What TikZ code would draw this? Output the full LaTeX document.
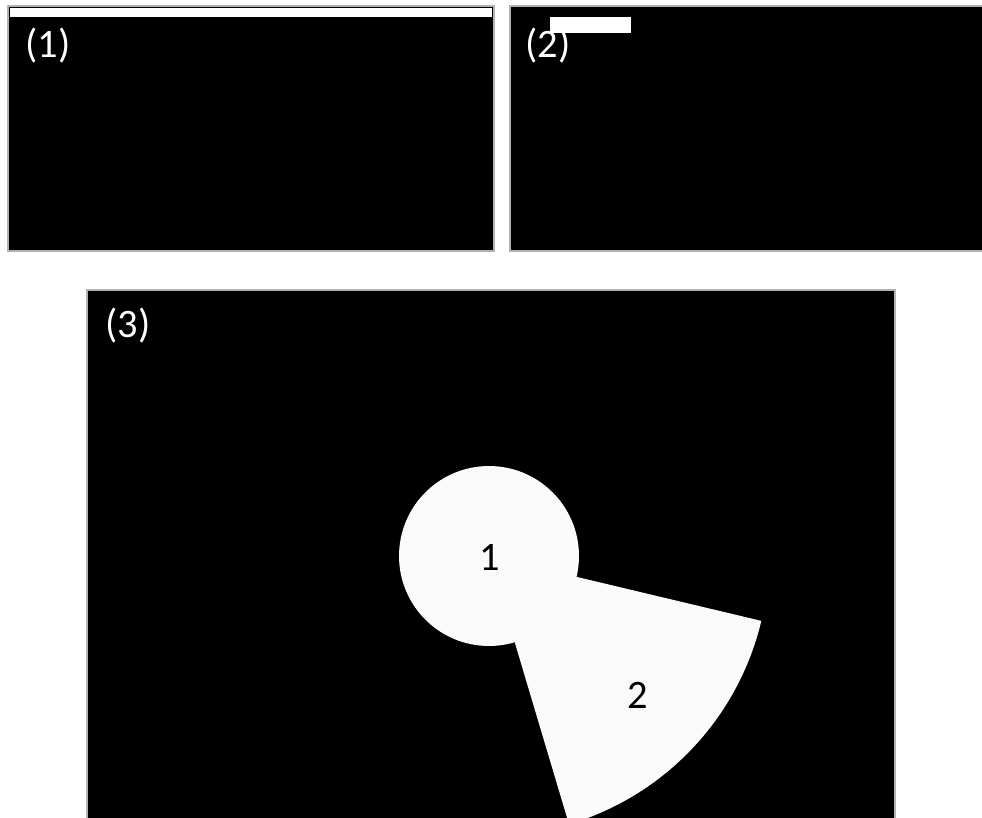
\documentclass[tikz,border=0pt]{standalone}
\usepackage{fontspec}
\setmainfont{Carlito}
\usetikzlibrary{positioning}

\begin{document}
\begin{tikzpicture}[
  x=0.02cm, y=-0.02cm,
  panel/.style={fill=black, draw=gray!60, line width=0.6pt},
  bar/.style={fill=white},
  tag/.style={text=white, font=\fontsize{23}{26}\selectfont, inner sep=0pt},
  num/.style={text=black, font=\fontsize{23}{26}\selectfont, inner sep=0pt},
  blob/.style={fill=gray!4}
]
\useasboundingbox (0,0) rectangle (982,817);
\fill[white] (0,0) rectangle (982,817);

% panel 1
\draw[panel] (8,6) rectangle (494,251);
\fill[bar] (10,8) rectangle (492,17);
\node[tag] (lab1) at (48,46) {(1)};

% panel 2
\draw[panel] (510,6) rectangle (986,251);
\node[tag] (lab2) at (548,46) {(2)};
\fill[bar] (550,17) rectangle (631,33);

% panel 3
\draw[panel] (87,290) rectangle (895,822);
\node[tag] (lab3) at (128,326) {(3)};

\begin{scope}
  \clip (87,290) rectangle (895,817);
  \coordinate (ctr) at (489,556);
  \fill[blob] (ctr) circle (1.8cm);
  \fill[blob] (ctr) -- ++(-13.4:5.6cm) arc[start angle=-13.4, end angle=-73.4, radius=5.6cm] -- cycle;
\end{scope}
\node[num] (one) at (490,557) {1};
\node[num] (two) at (638,695) {2};
\end{tikzpicture}
\end{document}
